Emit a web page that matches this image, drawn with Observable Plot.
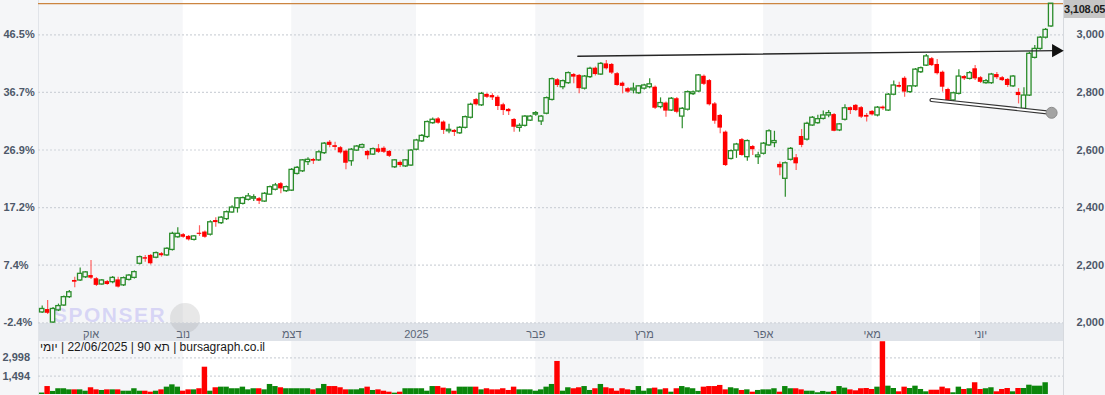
<!DOCTYPE html>
<html><head><meta charset="utf-8">
<script src="https://cdn.jsdelivr.net/npm/d3@7"></script>
<script src="https://cdn.jsdelivr.net/npm/@observablehq/plot@0.6"></script>
<style>
html,body{margin:0;padding:0;background:#f5f6f8;}
#wrap{position:relative;width:1105px;height:395px;overflow:hidden;background:#f5f6f8;font-family:"Liberation Sans",Arial,sans-serif;}
#wrap > .layer{position:absolute;left:0;top:0;}
#band{position:absolute;left:38px;top:322.5px;width:1025px;height:18px;background:#dee2e8;}
#lb{position:absolute;left:38px;top:0;width:1px;height:395px;background:#e1e4e9;}
#rb{position:absolute;left:1063px;top:0;width:1px;height:395px;background:#d6d9de;}
#foot{position:absolute;left:40px;top:340px;font-size:12px;line-height:15px;color:#1a1a1a;white-space:nowrap;}
#foot span{display:inline-block;white-space:pre;}
#wm{position:absolute;left:53px;top:304px;font-size:21px;line-height:21px;font-weight:bold;letter-spacing:1.5px;color:rgba(165,160,240,0.38);}
#monkey{position:absolute;left:170px;top:303px;width:30px;height:30px;border-radius:15px;background:rgba(150,150,150,0.22);}
#last{position:absolute;left:1064px;width:41px;height:18px;background:#c6c6c6;color:#1e1e1e;font-size:11px;font-weight:bold;line-height:18px;letter-spacing:-0.2px;white-space:nowrap;overflow:hidden;}
</style></head>
<body>
<div id="wrap"></div>
<script>
// ---- data ----
const opens = [
2036,2046,2001,2043,2060,2089,2147,2147,2158,2164,
2153,2133,2143,2141,2149,2130,2149,2156,2205,2226,
2234,2226,2240,2234,2253,2297,2306,2300,2288,2311,
2315,2306,2355,2346,2360,2383,2398,2413,2427,2431,
2431,2421,2445,2462,2483,2457,2459,2517,2526,2558,
2567,2564,2589,2627,2615,2608,2596,2561,2598,2608,
2595,2584,2604,2606,2595,2540,2557,2543,2546,2601,
2630,2645,2693,2708,2697,2665,2668,2658,2677,2712,
2775,2755,2793,2789,2783,2757,2741,2706,2677,2684,
2702,2723,2699,2726,2774,2844,2818,2832,2862,2859,
2813,2853,2884,2862,2899,2897,2865,2832,2813,2807,
2797,2813,2818,2818,2749,2763,2737,2778,2716,2740,
2794,2803,2856,2841,2760,2720,2662,2569,2598,2636,
2575,2612,2575,2587,2616,2624,2550,2500,2566,2573,
2647,2636,2685,2693,2708,2720,2723,2668,2705,2747,
2755,2747,2720,2734,2720,2749,2737,2792,2824,2849,
2801,2821,2870,2893,2917,2897,2870,2810,2772,2795,
2855,2847,2882,2851,2832,2832,2862,2851,2845,2821,
2800,2743,2789,2920,2951,2990,3029];
const highs = [
2058,2077,2053,2065,2093,2112,2158,2190,2178,2216,
2157,2150,2147,2161,2158,2159,2168,2180,2232,2234,
2237,2246,2244,2261,2314,2330,2310,2303,2303,2337,
2319,2354,2365,2369,2388,2406,2435,2437,2449,2445,
2435,2452,2475,2484,2487,2475,2536,2543,2567,2573,
2571,2597,2626,2633,2627,2612,2600,2605,2616,2621,
2598,2607,2619,2611,2598,2567,2562,2567,2602,2637,
2654,2701,2711,2713,2701,2689,2671,2682,2718,2762,
2779,2800,2796,2795,2788,2762,2744,2709,2691,2720,
2720,2734,2720,2784,2850,2848,2843,2871,2866,2862,
2859,2887,2888,2904,2911,2900,2869,2836,2817,2832,
2824,2828,2847,2822,2781,2767,2782,2782,2748,2805,
2805,2862,2860,2845,2765,2723,2666,2600,2623,2640,
2635,2616,2592,2626,2670,2665,2558,2558,2609,2584,
2671,2696,2716,2721,2735,2737,2727,2692,2757,2749,
2758,2751,2727,2737,2751,2753,2796,2840,2835,2854,
2824,2883,2888,2932,2921,2914,2874,2814,2801,2879,
2859,2873,2893,2855,2845,2866,2869,2855,2848,2859,
2813,2816,2939,2963,2994,3022,3109];
const lows = [
2032,2029,1998,2039,2057,2084,2122,2143,2154,2150,
2126,2130,2130,2136,2121,2126,2145,2152,2201,2210,
2201,2222,2228,2230,2249,2294,2294,2284,2284,2300,
2294,2301,2332,2341,2355,2380,2381,2409,2423,2421,
2411,2418,2442,2458,2448,2452,2456,2513,2522,2546,
2550,2560,2584,2608,2598,2586,2531,2544,2595,2604,
2566,2581,2588,2588,2574,2536,2539,2539,2543,2597,
2626,2640,2689,2689,2654,2656,2647,2654,2673,2708,
2753,2751,2779,2772,2737,2720,2720,2662,2662,2680,
2699,2717,2685,2722,2770,2817,2809,2828,2830,2795,
2808,2848,2857,2859,2878,2862,2821,2795,2796,2795,
2793,2808,2813,2741,2743,2714,2734,2726,2674,2735,
2789,2800,2824,2753,2689,2656,2543,2565,2571,2578,
2561,2581,2550,2583,2612,2608,2511,2436,2562,2529,
2608,2631,2682,2689,2704,2712,2663,2664,2701,2723,
2734,2709,2697,2718,2715,2737,2734,2788,2815,2783,
2796,2817,2866,2890,2890,2860,2801,2768,2768,2791,
2841,2843,2841,2831,2828,2828,2845,2838,2817,2817,
2760,2741,2786,2916,2946,2985,3025];
const closes = [
2048,2033,2048,2058,2089,2106,2141,2170,2175,2155,
2130,2147,2133,2156,2124,2155,2164,2176,2228,2221,
2205,2242,2233,2257,2309,2309,2297,2288,2300,2307,
2297,2349,2348,2365,2384,2400,2432,2433,2439,2436,
2422,2448,2471,2477,2465,2471,2531,2538,2564,2566,
2561,2592,2622,2616,2609,2590,2554,2601,2612,2617,
2580,2603,2592,2592,2578,2564,2546,2564,2598,2633,
2649,2697,2705,2693,2668,2670,2661,2677,2714,2757,
2757,2795,2783,2781,2751,2737,2733,2679,2684,2716,
2716,2728,2716,2780,2846,2824,2839,2867,2853,2813,
2855,2882,2862,2899,2882,2867,2824,2821,2801,2813,
2821,2824,2828,2745,2763,2735,2778,2731,2743,2801,
2800,2859,2828,2757,2700,2676,2546,2596,2619,2581,
2631,2601,2581,2622,2665,2631,2538,2554,2604,2552,
2616,2691,2712,2707,2720,2728,2665,2689,2745,2737,
2737,2714,2714,2722,2747,2743,2792,2824,2818,2801,
2821,2879,2884,2925,2893,2865,2818,2772,2797,2855,
2847,2867,2847,2835,2839,2862,2851,2841,2824,2855,
2789,2789,2934,2951,2990,3017,3108.05];
const volumes = [
120,650,250,470,470,380,380,380,270,550,
380,330,380,380,380,270,270,470,270,270,
190,270,380,600,790,600,270,380,380,470,
2230,270,550,600,600,470,470,600,380,470,
470,380,820,650,550,470,470,470,470,470,
380,470,820,650,650,550,380,380,380,470,
600,330,380,270,190,110,190,470,470,470,
470,270,650,650,520,470,270,600,600,600,
600,380,470,380,380,470,330,600,380,380,
380,270,380,600,820,2700,270,550,470,550,
650,330,470,820,550,470,270,470,380,330,
650,270,470,520,380,470,190,470,650,550,
470,250,600,650,650,740,380,550,470,330,
380,190,330,380,380,470,190,650,470,470,
380,270,270,140,250,190,250,650,520,380,
300,470,490,410,600,4310,680,490,220,600,
490,680,410,220,350,350,600,470,140,600,
410,470,960,410,470,550,220,410,490,220,
490,490,760,680,680,960,0];
const monthStarts = [9, 26, 46, 69, 91, 111, 133, 153, 173];
const monthLabels = ["אוק", "נוב", "דצמ", "2025", "פבר", "מרץ", "אפר", "מאי", "יוני"];
const priceTicks = [2000, 2200, 2400, 2600, 2800, 3000];
const pctLabels = ["-2.4%", "7.4%", "17.2%", "26.9%", "36.7%", "46.5%"];
const volTicks = [1494, 2998];
const trendIdx = [98.75, 186.9];
const trendPrice = [2925.7, 2945.0];
const supportIdx = [163.96, 186.1];
const supportPrice = [2773.6, 2729.2];
const footParts = ["יומי", " | ", "22/06/2025", " | ", "תא 90", " | ", "bursagraph.co.il"];

// ---- build ----
const W = 1105, H = 395, ML = 38, MR = 42;
const n = closes.length;
const xDomain = [-0.682, n + 1.29];
const candles = d3.range(n).map(i => ({i, o: opens[i], h: highs[i], l: lows[i], c: closes[i], v: volumes[i], up: closes[i] >= opens[i]}));
const ups = candles.filter(d => d.up), downs = candles.filter(d => !d.up);
const months = monthLabels.map((label, k) => ({label, start: monthStarts[k], end: k + 1 < monthStarts.length ? monthStarts[k + 1] : xDomain[1], white: k % 2 === 1}));
const lastClose = closes[n - 1];
const GREEN = "#2a8c2a", RED = "#ff0000", REDWICK = "#ff6060";
const font = {fontFamily: "'Liberation Sans', Arial, sans-serif", fontSize: "11px", background: "transparent", overflow: "visible"};
const axisCol = "#4d5869";

const wrap = document.getElementById("wrap");

const bg = Plot.plot({
  width: W, height: H, marginLeft: ML, marginRight: MR, marginTop: 0, marginBottom: 0,
  x: {domain: xDomain, axis: null}, y: {domain: [0, 1], axis: null}, style: font,
  marks: [Plot.rect(months.filter(m => m.white), {x1: "start", x2: "end", fill: "#ffffff"})]
});
bg.classList.add("layer"); wrap.appendChild(bg);

for (const id of ["band", "lb", "rb"]) { const d = document.createElement("div"); d.id = id; wrap.appendChild(d); }
const wm = document.createElement("div"); wm.id = "wm"; wm.textContent = "SPONSER"; wrap.appendChild(wm);
const mk = document.createElement("div"); mk.id = "monkey"; wrap.appendChild(mk);

const price = Plot.plot({
  width: W, height: H, marginLeft: ML, marginRight: MR, marginTop: 34.3, marginBottom: 72.7,
  x: {domain: xDomain, axis: null}, y: {domain: [2000, 3000]}, style: font,
  marks: [
    Plot.ruleY(priceTicks, {stroke: "#cfd3d9", strokeDasharray: "2,2", strokeWidth: 1.2}),
    Plot.axisY({anchor: "left", ticks: priceTicks, tickFormat: d => pctLabels[priceTicks.indexOf(d)], tickSize: 0, tickPadding: 35, textAnchor: "start", fill: axisCol, fontWeight: "bold", label: null}),
    Plot.axisY({anchor: "right", ticks: priceTicks, tickFormat: d3.format(","), tickSize: 0, tickPadding: 13, textAnchor: "start", fill: axisCol, fontWeight: "bold", label: null}),
    Plot.text(months, {x: "start", text: "label", frameAnchor: "bottom", dy: 15, fill: "#5b6576", fontSize: 11}),
    Plot.ruleY([lastClose], {stroke: "#cc8540", strokeWidth: 1.2}),
    // wicks
    Plot.ruleX(ups, {x: "i", y1: "h", y2: "c", stroke: GREEN, strokeWidth: 1.2}),
    Plot.ruleX(ups, {x: "i", y1: "o", y2: "l", stroke: GREEN, strokeWidth: 1.2}),
    Plot.ruleX(downs, {x: "i", y1: "h", y2: "l", stroke: REDWICK, strokeWidth: 1.2}),
    // bodies
    Plot.rect(downs, {x1: d => d.i - 0.42, x2: d => d.i + 0.42, y1: "o", y2: "c", fill: RED}),
    Plot.rect(ups, {x1: d => d.i - 0.40, x2: d => d.i + 0.40, y1: "o", y2: "c", fill: "none", stroke: GREEN, strokeWidth: 1.3}),
    // annotations
    Plot.line(trendIdx.map((x, k) => ({x, y: trendPrice[k]})), {x: "x", y: "y", stroke: "#262626", strokeWidth: 1.4}),
    Plot.dot([{x: trendIdx[1], y: trendPrice[1]}], {x: "x", y: "y", symbol: "triangle", rotate: 90, r: 5, fill: "#111", stroke: "none"}),
    Plot.line(supportIdx.map((x, k) => ({x, y: supportPrice[k]})), {x: "x", y: "y", stroke: "#333", strokeWidth: 4.2}),
    Plot.line(supportIdx.map((x, k) => ({x, y: supportPrice[k]})), {x: "x", y: "y", stroke: "#ffffff", strokeWidth: 1.8}),
    Plot.dot([{x: supportIdx[1], y: supportPrice[1]}], {x: "x", y: "y", r: 5.5, fill: "#a3a3a3", stroke: "#8c8c8c", strokeWidth: 1})
  ]
});
price.classList.add("layer"); wrap.appendChild(price);

const vol = Plot.plot({
  width: W, height: H, marginLeft: ML, marginRight: MR, marginTop: 357.3, marginBottom: 1,
  x: {domain: xDomain, axis: null}, y: {domain: [0, 2998]}, style: font,
  marks: [
    Plot.ruleY(volTicks, {stroke: "#cfd3d9", strokeDasharray: "2,2", strokeWidth: 1.2}),
    Plot.axisY({anchor: "left", ticks: volTicks, tickFormat: d3.format(","), tickSize: 0, tickPadding: 36, textAnchor: "start", fill: axisCol, fontWeight: "bold", label: null}),
    Plot.rect(ups, {x1: d => d.i - 0.5, x2: d => d.i + 0.5, y1: 0, y2: "v", fill: "#0b860b"}),
    Plot.rect(downs, {x1: d => d.i - 0.5, x2: d => d.i + 0.5, y1: 0, y2: "v", fill: RED})
  ]
});
vol.classList.add("layer"); wrap.appendChild(vol);

const foot = document.createElement("div"); foot.id = "foot";
for (const p of footParts) { const s = document.createElement("span"); s.textContent = p; if (/[\u0590-\u05FF]/.test(p)) s.dir = "rtl"; foot.appendChild(s); }
wrap.appendChild(foot);

const last = document.createElement("div"); last.id = "last";
last.style.top = Math.max(0, price.scale("y").apply(lastClose) - 9) + "px";
last.textContent = d3.format(",.2f")(lastClose);
wrap.appendChild(last);
</script>
</body></html>
